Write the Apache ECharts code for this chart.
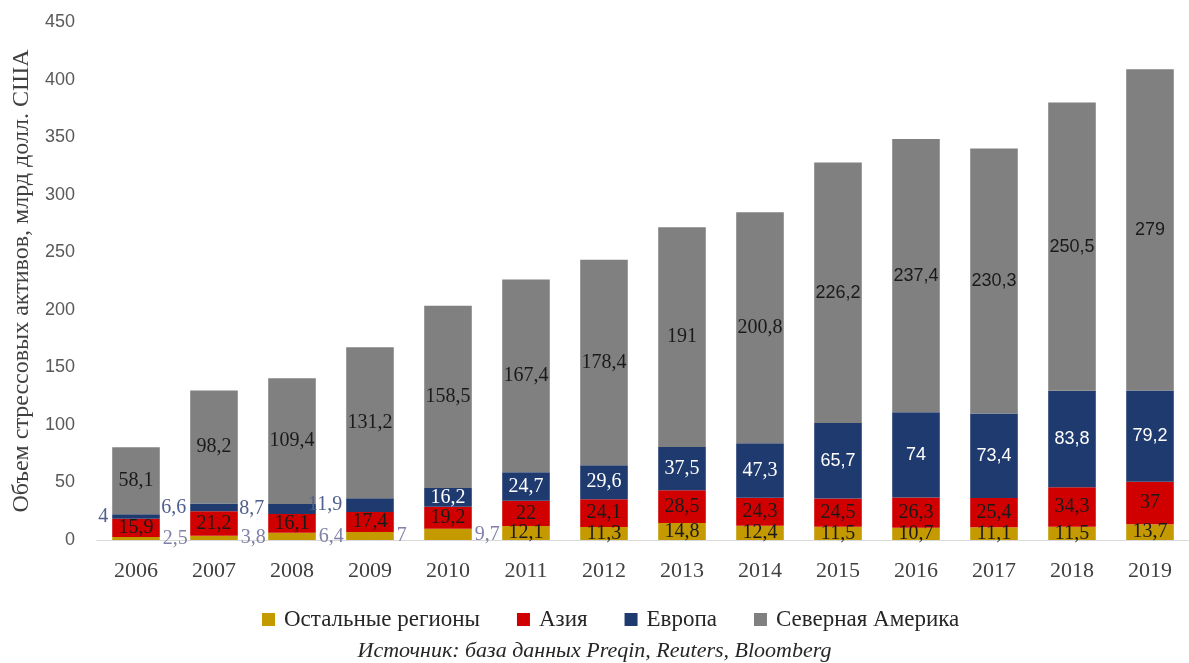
<!DOCTYPE html>
<html>
<head>
<meta charset="utf-8">
<script src="https://cdn.jsdelivr.net/npm/echarts@6/dist/echarts.min.js"></script>
<style>
  html, body { margin: 0; padding: 0; background: #ffffff; }
  #chart { width: 1189px; height: 663px; }
</style>
</head>
<body>
<div id="chart"></div>
<script>
// Distressed assets by region, bn USD
const years = ['2006','2007','2008','2009','2010','2011','2012','2013','2014','2015','2016','2017','2018','2019'];
const otherRegions = [2.5, 3.8, 6.4, 7, 9.7, 12.1, 11.3, 14.8, 12.4, 11.5, 10.7, 11.1, 11.5, 13.7];
const asia = [15.9, 21.2, 16.1, 17.4, 19.2, 22, 24.1, 28.5, 24.3, 24.5, 26.3, 25.4, 34.3, 37];
const europe = [4, 6.6, 8.7, 11.9, 16.2, 24.7, 29.6, 37.5, 47.3, 65.7, 74, 73.4, 83.8, 79.2];
const northAmerica = [58.1, 98.2, 109.4, 131.2, 158.5, 167.4, 178.4, 191, 200.8, 226.2, 237.4, 230.3, 250.5, 279];
const yTicks = { min: 0, max: 450, interval: 50 };

const serif = '"Liberation Serif", "DejaVu Serif", serif';
const sans = '"Liberation Sans", Arial, sans-serif';
const fmt = v => String(v).replace('.', ',');

// later years of the two upper series are labelled in a sans face
const sansFrom = years.indexOf('2015');

function buildData(values, opts) {
  return values.map((v, i) => {
    if (opts.outsideBelow && v < opts.outsideBelow) {
      return { value: v, label: opts.outside };
    }
    if (opts.sansLater && i >= sansFrom) {
      return { value: v, label: { fontFamily: sans, fontSize: 18 } };
    }
    return v;
  });
}

const chart = echarts.init(document.getElementById('chart'));

const insideLabel = (color) => ({
  show: true,
  position: 'inside',
  fontFamily: serif,
  fontSize: 20,
  color: color,
  formatter: p => fmt(p.value)
});

chart.setOption({
  backgroundColor: '#ffffff',
  animation: false,
  grid: { left: 97, top: 22, width: 1099, bottom: 123, containLabel: false },
  legend: {
    top: 603,
    left: 257,
    itemWidth: 13,
    itemHeight: 13,
    itemGap: 37,
    icon: 'rect',
    textStyle: { fontFamily: serif, fontSize: 23, color: '#262626', padding: [0, 0, 0, 4] },
    data: ['Остальные регионы', 'Азия', 'Европа', 'Северная Америка']
  },
  graphic: [{
    type: 'text',
    left: 'center',
    top: 640,
    style: {
      text: 'Источник: база данных Preqin, Reuters, Bloomberg',
      font: 'italic 22px ' + serif,
      fill: '#262626'
    }
  }],
  xAxis: {
    type: 'category',
    data: years,
    axisLine: { lineStyle: { color: '#d9d9d9', width: 1 } },
    axisTick: { show: false },
    axisLabel: { fontFamily: serif, fontSize: 22, color: '#404040', margin: 20 }
  },
  yAxis: {
    type: 'value',
    min: yTicks.min,
    max: yTicks.max,
    interval: yTicks.interval,
    name: 'Объем стрессовых активов, млрд долл. США',
    nameLocation: 'middle',
    nameGap: 59,
    nameTextStyle: { fontFamily: serif, fontSize: 24, color: '#404040' },
    axisLine: { show: false },
    axisTick: { show: false },
    splitLine: { show: false },
    axisLabel: { fontFamily: sans, fontSize: 18, color: '#595959', margin: 22 }
  },
  series: [
    {
      name: 'Остальные регионы', type: 'bar', stack: 'total', barWidth: '61%',
      itemStyle: { color: '#C49A00' },
      label: insideLabel('#1a1a1a'),
      data: buildData(otherRegions, {
        outsideBelow: 10,
        outside: { position: 'right', distance: 3, color: '#8080a8' }
      })
    },
    {
      name: 'Азия', type: 'bar', stack: 'total',
      itemStyle: { color: '#D00000' },
      label: insideLabel('#1a1a1a'),
      data: buildData(asia, {})
    },
    {
      name: 'Европа', type: 'bar', stack: 'total',
      itemStyle: { color: '#1F3A6E' },
      label: insideLabel('#ffffff'),
      data: buildData(europe, {
        outsideBelow: 12,
        outside: { position: 'left', distance: 4, color: '#50608f' },
        sansLater: true
      })
    },
    {
      name: 'Северная Америка', type: 'bar', stack: 'total',
      itemStyle: { color: '#808080' },
      label: insideLabel('#1a1a1a'),
      data: buildData(northAmerica, { sansLater: true })
    }
  ]
});
</script>
</body>
</html>
